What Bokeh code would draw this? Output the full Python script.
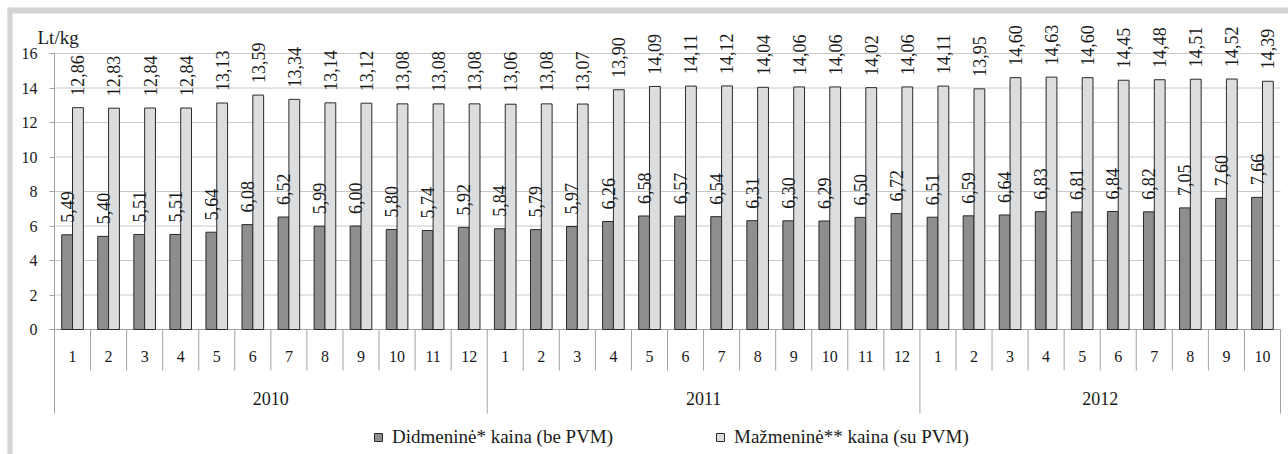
import math
from bokeh.plotting import figure
from bokeh.models import (Range1d, FixedTicker, Legend, LegendItem, Label,
                          ColumnDataSource, BoxAnnotation)
from bokeh.transform import dodge
from bokeh.core.properties import value
from bokeh.embed import file_html
from bokeh.resources import INLINE

# ---------------- data ----------------
years = ["2010", "2011", "2012"]
months_per_year = [12, 12, 10]
wholesale = [5.49, 5.40, 5.51, 5.51, 5.64, 6.08, 6.52, 5.99, 6.00, 5.80, 5.74, 5.92,
             5.84, 5.79, 5.97, 6.26, 6.58, 6.57, 6.54, 6.31, 6.30, 6.29, 6.50, 6.72,
             6.51, 6.59, 6.64, 6.83, 6.81, 6.84, 6.82, 7.05, 7.60, 7.66]
retail = [12.86, 12.83, 12.84, 12.84, 13.13, 13.59, 13.34, 13.14, 13.12, 13.08, 13.08, 13.08,
          13.06, 13.08, 13.07, 13.90, 14.09, 14.11, 14.12, 14.04, 14.06, 14.06, 14.02, 14.06,
          14.11, 13.95, 14.60, 14.63, 14.60, 14.45, 14.48, 14.51, 14.52, 14.39]
y_ticks = [0, 2, 4, 6, 8, 10, 12, 14, 16]
series_names = ["Didmeninė* kaina (be PVM)", "Mažmeninė** kaina (su PVM)"]
unit_label = "Lt/kg"

# ---------------- derived ----------------
months = [str(m) for n in months_per_year for m in range(1, n + 1)]
N = len(months)
centers = [i + 0.5 for i in range(N)]
fmt = lambda v: f"{v:.2f}".replace(".", ",")
src = ColumnDataSource(dict(
    xc=centers, month=months, dark=wholesale, light=retail,
    dark_lbl=[fmt(v) for v in wholesale], light_lbl=[fmt(v) for v in retail],
))
bounds = [0]
for n in months_per_year:
    bounds.append(bounds[-1] + n)
year_centers = [(a + b) / 2 for a, b in zip(bounds[:-1], bounds[1:])]
month_sep = [i for i in range(1, N) if i not in bounds]

# ---------------- layout (pixels of the 1288x454 canvas) ----------------
W, H = 1288, 454
AX_X, RIGHT_X = 54, 1280        # category area, px
Y0_PX, Y16_PX = 329, 53         # y=0 and y=16, px
PX_X = (RIGHT_X - AX_X) / N
PX_Y = (Y0_PX - Y16_PX) / 16
X_START = -AX_X / PX_X
Y_END = 16 + Y16_PX / PX_Y
px2x = lambda px: X_START + px / PX_X
py2y = lambda py: Y_END - py / PX_Y

FONT = "'Liberation Serif', 'Times New Roman', serif"
SERIF = value(FONT)
TXT = "#1a1a1a"
DARK = "#8d8e90"
LIGHT = "#dcdddf"
EDGE = "#2a2a2a"
AXIS = "#a3a3a3"
GRID = "#c8c8c8"
BAND = "#d4d4d4"

p = figure(width=W, height=H,
           x_range=Range1d(X_START, px2x(W)),
           y_range=Range1d(py2y(H), Y_END),
           x_axis_type=None, y_axis_location="left",
           output_backend="svg", toolbar_location=None,
           min_border_left=0, min_border_right=0, min_border_top=0, min_border_bottom=0)
p.outline_line_color = None
p.background_fill_color = "white"
p.border_fill_color = "white"
p.ygrid.visible = False
p.xgrid.visible = False

# outer frame bands (top and left)
p.add_layout(BoxAnnotation(left=px2x(7), top=py2y(7), bottom=py2y(13), fill_color=BAND,
                           fill_alpha=1, line_alpha=0, level="underlay"))
p.add_layout(BoxAnnotation(left=px2x(7), right=px2x(12), top=py2y(7), fill_color=BAND,
                           fill_alpha=1, line_alpha=0, level="underlay"))

ax = p.yaxis[0]
ax.fixed_location = 0
ax.ticker = FixedTicker(ticks=y_ticks)
ax.bounds = (py2y(413), y_ticks[-1])
ax.axis_line_color = AXIS
ax.major_tick_line_color = AXIS
ax.major_tick_out = 5
ax.major_tick_in = 0
ax.minor_tick_line_color = None
ax.major_label_standoff = 12
ax.major_label_text_font = FONT
ax.major_label_text_font_size = "16px"
ax.major_label_text_color = TXT

# grid lines and baseline
p.segment(x0=0, x1=N, y0=y_ticks[1:], y1=y_ticks[1:], line_color=GRID, line_width=1)
p.segment(x0=0, x1=N, y0=0, y1=0, line_color=AXIS, line_width=1)

# bars
r1 = p.vbar(x=dodge("xc", -0.15), top="dark", width=0.3, source=src,
            fill_color=DARK, line_color=EDGE, line_width=1)
r2 = p.vbar(x=dodge("xc", 0.15), top="light", width=0.3, source=src,
            fill_color=LIGHT, line_color=EDGE, line_width=1)

# value labels (rotated)
for col, lbl, off in (("dark", "dark_lbl", -0.15), ("light", "light_lbl", 0.15)):
    p.text(x=dodge("xc", off), y=col, text=lbl, source=src,
           angle=math.pi / 2, text_align="left", text_baseline="middle",
           y_offset=-12, text_font=SERIF, text_font_size="18px", text_color=TXT)

# category axis: month labels, year labels, separators
p.text(x="xc", y=py2y(356), text="month", source=src, text_align="center",
       text_baseline="middle", text_font=SERIF, text_font_size="16px", text_color=TXT)
p.text(x=year_centers, y=[py2y(398)] * len(years), text=years, text_align="center",
       text_baseline="middle", text_font=SERIF, text_font_size="18px", text_color=TXT)
p.segment(x0=month_sep, y0=0, x1=month_sep, y1=py2y(370), line_color=AXIS, line_width=1)
p.segment(x0=bounds, y0=0, x1=bounds, y1=py2y(413), line_color=AXIS, line_width=1)

# unit label
p.add_layout(Label(x=0, y=y_ticks[-1], x_offset=-17, y_offset=16, text=unit_label,
                   text_font=FONT, text_font_size="19px",
                   text_color=TXT, text_baseline="alphabetic"))

# legends
for r, name, gx in ((r1, series_names[0], 373), (r2, series_names[1], 715)):
    leg = Legend(items=[LegendItem(label=name, renderers=[r])], location=(gx, 6),
                 orientation="horizontal", padding=0, margin=0,
                 border_line_color=None, background_fill_alpha=0,
                 glyph_width=10, glyph_height=10, label_standoff=9,
                 label_text_font=FONT, label_text_font_size="19px",
                 label_text_color=TXT)
    p.add_layout(leg)

open("out.html", "w").write(file_html(p, INLINE))
